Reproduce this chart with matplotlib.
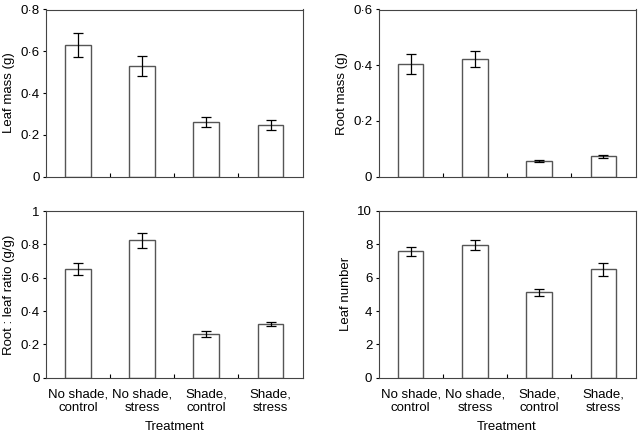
import matplotlib
matplotlib.use("Agg")
import matplotlib.pyplot as plt
from matplotlib.ticker import FixedLocator, FuncFormatter
import numpy as np

plt.rcParams['font.family'] = ['Liberation Sans', 'DejaVu Sans']
plt.rcParams['font.size'] = 9

categories = ["No shade,\ncontrol", "No shade,\nstress", "Shade,\ncontrol", "Shade,\nstress"]

leaf_mass = [0.63, 0.529, 0.26, 0.246]
leaf_mass_err = [0.058, 0.047, 0.024, 0.024]

root_mass = [0.405, 0.423, 0.057, 0.073]
root_mass_err = [0.035, 0.028, 0.004, 0.005]

ratio = [0.654, 0.826, 0.264, 0.32]
ratio_err = [0.036, 0.045, 0.018, 0.012]

leaf_num = [7.59, 7.96, 5.13, 6.51]
leaf_num_err = [0.28, 0.28, 0.2, 0.4]

panels = [
    (leaf_mass, leaf_mass_err, "Leaf mass (g)", 0.8, [0, 0.2, 0.4, 0.6, 0.8]),
    (root_mass, root_mass_err, "Root mass (g)", 0.6, [0, 0.2, 0.4, 0.6]),
    (ratio, ratio_err, "Root : leaf ratio (g/g)", 1.0, [0, 0.2, 0.4, 0.6, 0.8, 1.0]),
    (leaf_num, leaf_num_err, "Leaf number", 10, [0, 2, 4, 6, 8, 10]),
]

W, H = 640, 433
# axes boxes in pixels: left, top, right, bottom
boxes = [(45.7, 9.5, 302.7, 176.7), (378.5, 9.5, 635.5, 176.7),
         (45.7, 211, 302.7, 377.8), (378.5, 211, 635.5, 377.8)]

def fmt(v, pos):
    if v == 0:
        return "0"
    if abs(v - round(v)) < 1e-9:
        return str(int(round(v)))
    return ("%.1f" % v).replace(".", "\u00b7")

fig = plt.figure(figsize=(W / 100, H / 100), dpi=100)
x = np.arange(1, 5)
for i, (vals, errs, lab, ymax, ticks) in enumerate(panels):
    l, t, r, b = boxes[i]
    ax = fig.add_axes([l / W, 1 - b / H, (r - l) / W, (b - t) / H])
    ax.bar(x, vals, width=0.4, color="white", edgecolor="#555555", linewidth=1.0, zorder=2)
    ax.errorbar(x, vals, yerr=errs, fmt="none", ecolor="black", elinewidth=0.9,
                capsize=3.5, capthick=0.9, zorder=3)
    ax.set_xlim(0.5, 4.5)
    ax.set_ylim(0, ymax)
    ax.set_yticks(ticks)
    ax.yaxis.set_major_formatter(FuncFormatter(fmt))
    ax.tick_params(axis="y", direction="out", length=2.5, width=0.8, pad=2, labelsize=9.5)
    ax.set_xticks([1.5, 2.5, 3.5])
    ax.set_xticklabels([])
    ax.tick_params(axis="x", direction="in", length=3, width=0.8)
    ax.xaxis.set_minor_locator(FixedLocator(x))
    ax.tick_params(axis="x", which="minor", length=0, pad=7.5, labelsize=9.5)
    for s in ax.spines.values():
        s.set_color("#444444")
        s.set_linewidth(0.8)
    ax.set_ylabel(lab, fontsize=9.5, labelpad=4)
    if i >= 2:
        ax.set_xticks(x, minor=True)
        ax.set_xticklabels(categories, minor=True, linespacing=1.2)
        ax.set_xlabel("Treatment", fontsize=9.5, labelpad=5)

fig.savefig("out.png", dpi=100)
